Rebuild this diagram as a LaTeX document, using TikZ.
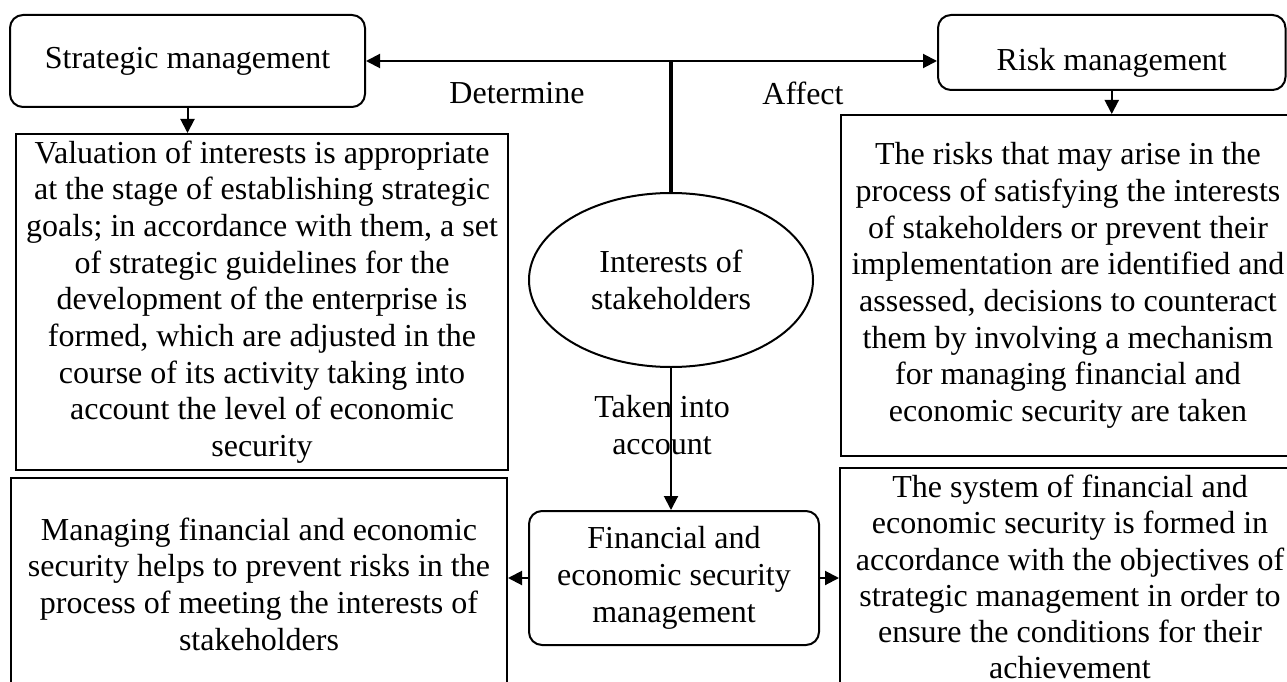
\documentclass[tikz,border=0pt]{standalone}
\usepackage{fontspec}
\setmainfont{Liberation Serif}
\usetikzlibrary{arrows.meta,shapes.geometric}

\tikzset{
  txt/.style={font=\fontsize{32}{36.7}\selectfont, align=center, inner sep=0pt},
  framebox/.style={draw, line width=2pt, inner sep=0pt, txt},
  roundbox/.style={framebox, rounded corners=13pt},
  oval/.style={draw, line width=2pt, ellipse, inner sep=0pt, txt},
  arr/.style={line width=2pt, -{Triangle[length=14pt,width=14pt]}},
  trunk/.style={line width=3.5pt}
}

\begin{document}
\begin{tikzpicture}[x=1pt,y=-1pt]
  \useasboundingbox (0,0) rectangle (1287,682);
  \clip (0,0) rectangle (1287,682);

  % top row
  \node[roundbox, minimum width=355, minimum height=92] (sm) at (187.5,61) {Strategic management};
  \node[roundbox, minimum width=347.5, minimum height=75] (rm) at (1111.75,52.5) {};
  \node[txt] (rmt) at (1111.75,63) {Risk management};

  % descriptive boxes under the top row
  \node[framebox, minimum width=492, minimum height=336] (val) at (262,302)
    {Valuation of interests is appropriate\\
     at the stage of establishing strategic\\
     goals; in accordance with them, a set\\
     of strategic guidelines for the\\
     development of the enterprise is\\
     formed, which are adjusted in the\\
     course of its activity taking into\\
     account the level of economic\\
     security};
  \node[framebox, minimum width=454, minimum height=341] (rt) at (1068,285.5)
    {The risks that may arise in the\\
     process of satisfying the interests\\
     of stakeholders or prevent their\\
     implementation are identified and\\
     assessed, decisions to counteract\\
     them by involving a mechanism\\
     for managing financial and\\
     economic security are taken};

  % centre
  \node[oval, minimum width=284, minimum height=174] (ell) at (671,280) {Interests of\\stakeholders};
  \node[roundbox, minimum width=290, minimum height=134] (fin) at (674,578)
    {Financial and\\economic security\\management};

  % bottom row
  \node[framebox, minimum width=496, minimum height=212] (bl) at (259,584)
    {Managing financial and economic\\
     security helps to prevent risks in the\\
     process of meeting the interests of\\
     stakeholders};
  \node[framebox, font=\fontsize{32}{36.2}\selectfont, minimum width=460, minimum height=218] (br) at (1070,577)
    {The system of financial and\\
     economic security is formed in\\
     accordance with the objectives of\\
     strategic management in order to\\
     ensure the conditions for their\\
     achievement};

  % connectors
  \coordinate (J) at (671,61);
  \draw[trunk] (ell.north) -- (J);
  \draw[arr] (J) -- (J -| sm.east);
  \draw[arr] (J) -- (J -| rm.west);
  \draw[arr] (sm.south) -- (sm.south |- val.north);
  \draw[arr] (rm.south) -- (rm.south |- rt.north);
  \draw[arr] (ell.south) -- (ell.south |- fin.north);
  \draw[arr] (fin.west) -- (fin.west -| bl.east);
  \draw[arr] (fin.east) -- (fin.east -| br.west);

  % connector labels
  \node[txt] (ldet) at (517,93) {Determine};
  \node[txt] (laff) at (803,93) {Affect};
  \node[txt] (ltak) at (662,425) {Taken into\\account};
\end{tikzpicture}
\end{document}
